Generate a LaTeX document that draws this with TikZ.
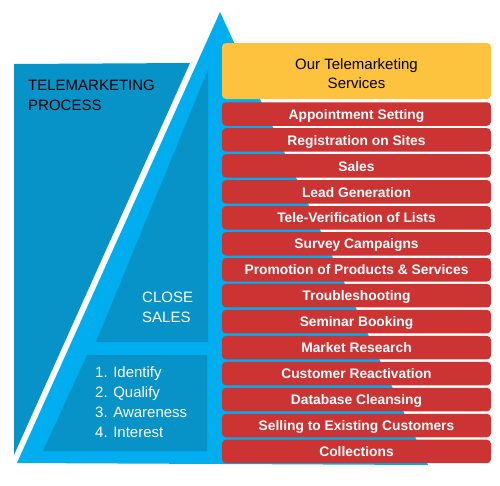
\documentclass[tikz,border=0pt]{standalone}
\usepackage{fontspec}
\setmainfont{Liberation Sans}
\definecolor{lblue}{HTML}{00ADEE}
\definecolor{dblue}{HTML}{0793C7}
\definecolor{ybox}{HTML}{FDC33F}
\definecolor{rbox}{HTML}{CC3333}
\begin{document}
\begin{tikzpicture}[x=1pt,y=-1pt,
  svcbox/.style={rounded corners=4pt, minimum width=269pt, inner sep=0pt, anchor=center},
  redbox/.style={svcbox, fill=rbox, minimum height=23.5pt, text=white,
    text height=10.3pt, text depth=0pt, font=\fontsize{13.8}{16}\selectfont\bfseries},
  hdrbox/.style={svcbox, fill=ybox, minimum height=56pt},
  hdrtext/.style={inner sep=0pt, text=black, align=center, font=\fontsize{15}{18.5}\selectfont},
  sidetext/.style={anchor=north west, inner sep=0pt, align=left, font=\fontsize{15}{20}\selectfont}
]
\useasboundingbox (0,0) rectangle (500,485);
% left dark panel
\fill[dblue] (14,64) -- (190,63) -- (14,455) -- cycle;
% big light triangle
\fill[lblue] (220,12) -- (428,465) -- (17,463) -- cycle;
% inner dark shapes
\fill[dblue] (208,70) -- (208,342) -- (96,342) -- cycle;
\fill[dblue] (87,355) -- (207,355) -- (207,451) -- (43,451) -- cycle;
% texts
\node[sidetext, text=black] (proc) at (28,80) {TELEMARKETING\\PROCESS};
\node[sidetext, text=white] (close) at (142,292) {CLOSE\\SALES};
\node[sidetext, text=white] (steps) at (95,366.7) {1. Identify\\2. Qualify\\3. Awareness\\4. Interest};
% service boxes
\node[hdrbox] (hdr) at (356.5,71) {};
\node[hdrtext, yshift=-2.5pt] (hdrlbl) at (hdr.center) {Our Telemarketing\\Services};
\foreach \t [count=\i] in {Appointment Setting, Registration on Sites, Sales, Lead Generation,
  Tele-Verification of Lists, Survey Campaigns, Promotion of Products \& Services,
  Troubleshooting, Seminar Booking, Market Research, Customer Reactivation,
  Database Cleansing, Selling to Existing Customers, Collections}
  \node[redbox] (b\i) at (356.5,{114+25.96*(\i-1)}) {\t};
\end{tikzpicture}
\end{document}
